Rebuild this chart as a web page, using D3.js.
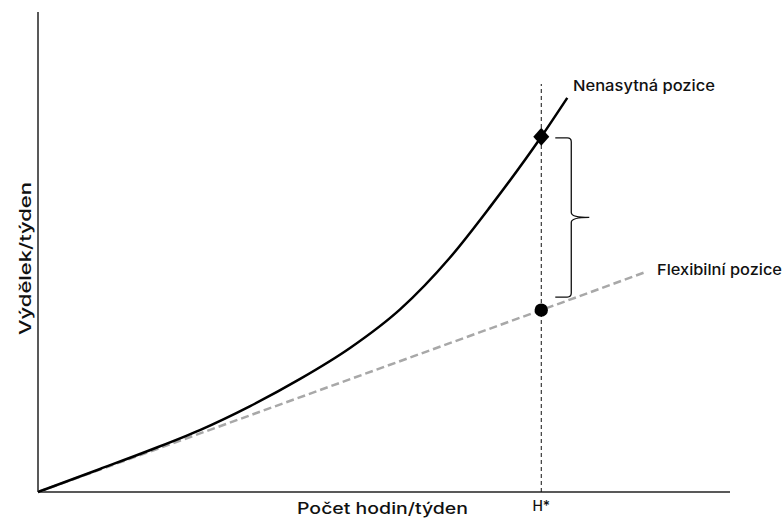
<!DOCTYPE html>
<html>
<head>
<meta charset="utf-8">
<script src="https://cdn.jsdelivr.net/npm/d3@7"></script>
<style>
  body { margin: 0; background: #fff; }
  svg text { font-family: "Inter", "Noto Sans", sans-serif; fill: #111; }
</style>
</head>
<body>
<div id="chart"></div>
<script>
// data
const hours = [0, 7.4, 13.4, 19.3, 25.3, 31.2, 37.2, 43.2, 49.1, 53.9, 60, 63.1];
const greedyPay = [0, 4.8, 8.75, 12.9, 17.9, 23.5, 30, 38.1, 48.8, 59.4, 74, 82.1];
const flexHours = [0, 60, 72.4];
const flexPay = [0, 37.9, 45.8];
const hStar = 60;
const labels = { x: "Počet hodin/týden", y: "Výdělek/týden", greedy: "Nenasytná pozice", flex: "Flexibilní pozice", h: "H*" };

const W = 784, H = 521;
const x = d3.scaleLinear().domain([0, 82.5]).range([38, 730]);
const y = d3.scaleLinear().domain([0, 100]).range([492, 12]);

const svg = d3.select('#chart').append('svg').attr('width', W).attr('height', H);

// osy
svg.append('line').attr('x1', x(0)).attr('x2', x(82.5)).attr('y1', y(0)).attr('y2', y(0))
  .attr('stroke', '#222').attr('stroke-width', 1.5);
svg.append('line').attr('x1', x(0)).attr('x2', x(0)).attr('y1', y(0)).attr('y2', y(100))
  .attr('stroke', '#222').attr('stroke-width', 1.5);

// svislá čára H*
const yGreedyStar = greedyPay[hours.indexOf(hStar)];
const yFlexStar = flexPay[flexHours.indexOf(hStar)];
svg.append('line').attr('x1', x(hStar)).attr('x2', x(hStar)).attr('y1', y(0)).attr('y2', y(85))
  .attr('stroke', '#111').attr('stroke-width', 1).attr('stroke-dasharray', '4 3');

const line = d3.line().x(d => x(d[0])).y(d => y(d[1]));

// flexibilní pozice
svg.append('path').datum(d3.zip(flexHours, flexPay))
  .attr('d', line).attr('fill', 'none')
  .attr('stroke', '#a8a8a8').attr('stroke-width', 2.5).attr('stroke-dasharray', '8 4');

// nenasytná pozice
svg.append('path').datum(d3.zip(hours, greedyPay))
  .attr('d', line.curve(d3.curveMonotoneX)).attr('fill', 'none')
  .attr('stroke', '#000').attr('stroke-width', 2.5);

// body
const dx = x(hStar), dy = y(yGreedyStar);
svg.append('path').attr('d', `M${dx},${dy - 9} L${dx + 8},${dy} L${dx},${dy + 9} L${dx - 8},${dy} Z`)
  .attr('fill', '#000');
svg.append('circle').attr('cx', x(hStar)).attr('cy', y(yFlexStar)).attr('r', 6.7).attr('fill', '#000');

// složená závorka
const bx = x(hStar) + 30, t = y(yGreedyStar) + 1, b = y(yFlexStar) - 13, m = (t + b) / 2;
const bl = x(hStar) + 14, tip = bx + 18;
const brace = `M${bl},${t} L${bx - 4},${t} Q${bx},${t} ${bx},${t + 4} L${bx},${m - 5} Q${bx},${m} ${tip},${m}`
  + ` Q${bx},${m} ${bx},${m + 5} L${bx},${b - 4} Q${bx},${b} ${bx - 4},${b} L${bl},${b}`;
svg.append('path').attr('d', brace).attr('fill', 'none').attr('stroke', '#111').attr('stroke-width', 1.3);

// popisky
svg.append('text').attr('x', 573).attr('y', 91)
  .attr('font-size', 15).attr('font-weight', 500)
  .attr('textLength', 142).attr('lengthAdjust', 'spacingAndGlyphs').text(labels.greedy);
svg.append('text').attr('x', 657).attr('y', 275)
  .attr('font-size', 15).attr('font-weight', 500)
  .attr('textLength', 125).attr('lengthAdjust', 'spacingAndGlyphs').text(labels.flex);
svg.append('text').attr('x', 297).attr('y', 514)
  .attr('font-size', 16).attr('font-weight', 500)
  .attr('textLength', 171).attr('lengthAdjust', 'spacingAndGlyphs').text(labels.x);
svg.append('text').attr('x', x(hStar)).attr('y', 511).attr('text-anchor', 'middle')
  .attr('font-size', 14).attr('font-weight', 500).text(labels.h);
svg.append('text').attr('transform', 'translate(31,335) rotate(-90)')
  .attr('font-size', 16).attr('font-weight', 500)
  .attr('textLength', 153).attr('lengthAdjust', 'spacingAndGlyphs').text(labels.y);
</script>
</body>
</html>
